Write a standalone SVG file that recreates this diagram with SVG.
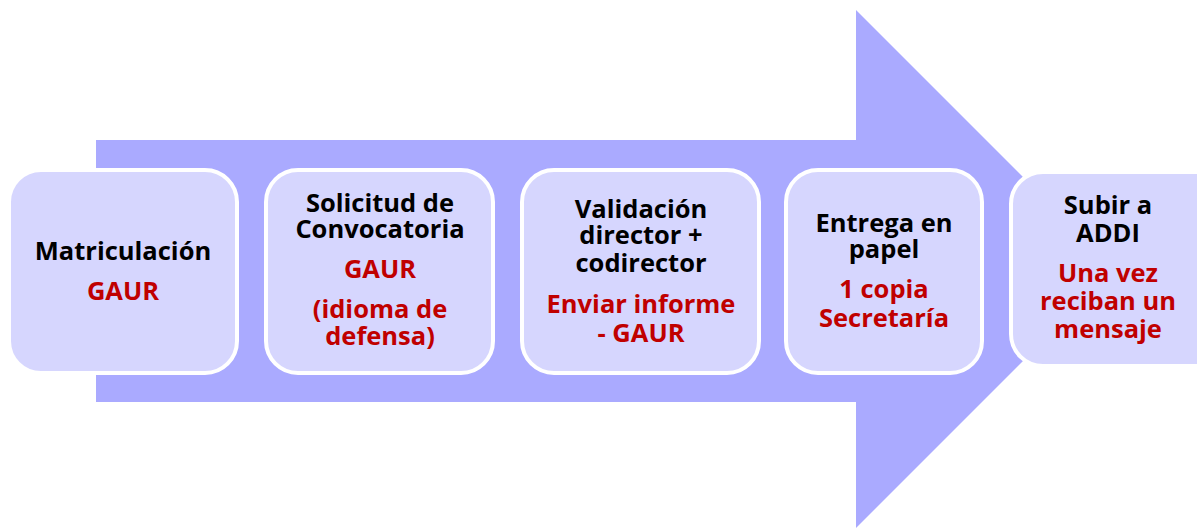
<svg xmlns="http://www.w3.org/2000/svg" width="1197" height="529" viewBox="0 0 1197 529">
<style>
.box{fill:#D6D6FE;stroke:#FFFFFF;stroke-width:4}
text{font-family:"Open Sans","Noto Sans","DejaVu Sans",sans-serif;font-weight:bold;font-size:25.5px;text-anchor:middle}
.k{fill:#000000}
.r{fill:#C00000}
</style>
<rect width="1197" height="529" fill="#FFFFFF"/>
<g id="connectors">
<polygon points="96,140 856,140 856,10 1115,269 856,528 856,402 96,402" fill="#AAAAFF"/>
</g>
<g id="n1">
<rect class="box" x="9" y="170" width="228" height="203" rx="32"/>
<text class="k" x="123" y="260">Matriculación</text>
<text class="r" x="123" y="300">GAUR</text>
</g>
<g id="n2">
<rect class="box" x="266" y="170" width="227" height="203" rx="32"/>
<text class="k" x="380" y="212">Solicitud de</text>
<text class="k" x="380" y="238">Convocatoria</text>
<text class="r" x="380" y="278">GAUR</text>
<text class="r" x="380" y="318">(idioma de</text>
<text class="r" x="380" y="345">defensa)</text>
</g>
<g id="n3">
<rect class="box" x="522" y="170" width="237" height="203" rx="32"/>
<text class="k" x="641" y="218">Validación</text>
<text class="k" x="641" y="244">director +</text>
<text class="k" x="641" y="272">codirector</text>
<text class="r" x="641" y="313">Enviar informe</text>
<text class="r" x="641" y="342">- GAUR</text>
</g>
<g id="n4">
<rect class="box" x="786" y="170" width="196" height="203" rx="32"/>
<text class="k" x="884" y="232">Entrega en</text>
<text class="k" x="884" y="258">papel</text>
<text class="r" x="884" y="298">1 copia</text>
<text class="r" x="884" y="327">Secretaría</text>
</g>
<g id="n5">
<rect class="box" x="1011" y="172" width="220" height="194" rx="32"/>
<text class="k" x="1108" y="214">Subir a</text>
<text class="k" x="1108" y="242">ADDI</text>
<text class="r" x="1108" y="282">Una vez</text>
<text class="r" x="1108" y="310">reciban un</text>
<text class="r" x="1108" y="338">mensaje</text>
</g>
</svg>
